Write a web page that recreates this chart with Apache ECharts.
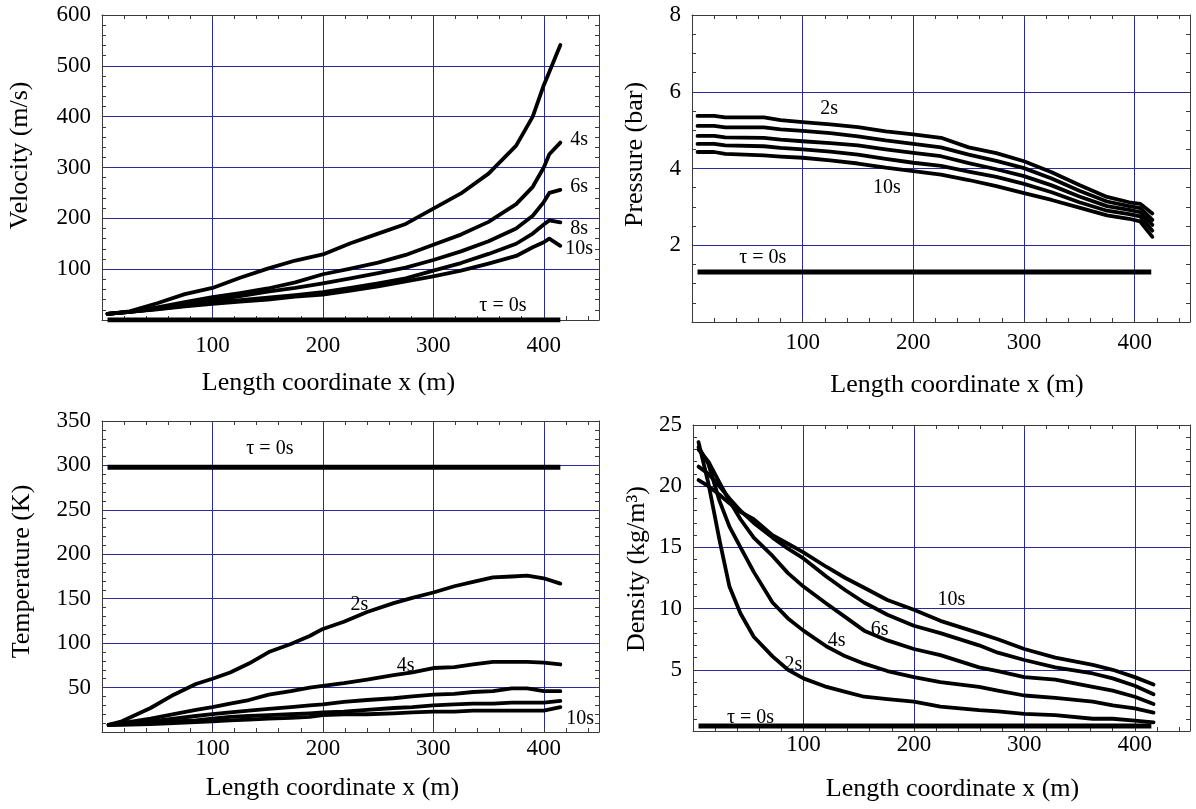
<!DOCTYPE html>
<html>
<head>
<meta charset="utf-8">
<title>Pipeline blowdown profiles</title>
<script src="https://cdn.jsdelivr.net/npm/echarts@6/dist/echarts.min.js"></script>
<style>
  html, body { margin: 0; padding: 0; background: #fff; }
  #chart { width: 1196px; height: 809px; }
</style>
</head>
<body>
<div id="chart"></div>
<script>
// ---- data ----
const lineEnds = [5, 415];

// velocity (m/s)
const velX = [5, 25, 50, 75, 100, 125, 150, 175, 200, 225, 250, 275, 300, 325, 350, 375, 390, 400, 405, 415];
const velT2 = [12, 17, 33, 51, 63, 83, 101, 117, 129, 151, 170, 189, 219, 249, 288, 343, 400, 462, 488, 541];
const velT4 = [12, 16, 25, 35, 45, 53, 62, 74, 90, 101, 113, 128, 148, 168, 193, 228, 262, 300, 326, 349];
const velT6 = [12, 16, 22, 31, 39, 47, 56, 63, 72, 82, 92, 103, 118, 135, 155, 180, 205, 232, 250, 256];
const velT8 = [12, 16, 22, 28, 35, 39, 44, 49, 55, 63, 72, 82, 97, 112, 130, 150, 170, 188, 196, 192];
const velT10 = [12, 16, 21, 27, 32, 36, 40, 46, 50, 58, 66, 76, 86, 97, 111, 126, 143, 153, 160, 146];
const velT0 = [0, 0];

// pressure (bar)
const presX = [5, 20, 30, 65, 80, 100, 125, 150, 175, 200, 225, 250, 275, 300, 325, 350, 375, 395, 405, 416];
const presT2 = [5.37, 5.37, 5.33, 5.33, 5.26, 5.21, 5.15, 5.08, 4.97, 4.89, 4.80, 4.55, 4.40, 4.19, 3.90, 3.57, 3.26, 3.12, 3.08, 2.83];
const presT4 = [5.11, 5.11, 5.07, 5.07, 5.02, 4.98, 4.92, 4.84, 4.73, 4.64, 4.55, 4.36, 4.20, 4.01, 3.74, 3.42, 3.14, 3.02, 2.97, 2.66];
const presT6 = [4.85, 4.85, 4.81, 4.80, 4.75, 4.71, 4.66, 4.60, 4.50, 4.41, 4.32, 4.14, 3.98, 3.80, 3.56, 3.27, 3.02, 2.92, 2.86, 2.53];
const presT8 = [4.64, 4.64, 4.60, 4.58, 4.54, 4.50, 4.44, 4.36, 4.25, 4.15, 4.07, 3.92, 3.78, 3.60, 3.38, 3.12, 2.90, 2.81, 2.75, 2.38];
const presT10 = [4.43, 4.43, 4.38, 4.34, 4.31, 4.28, 4.21, 4.13, 4.02, 3.93, 3.84, 3.70, 3.54, 3.36, 3.18, 2.98, 2.78, 2.69, 2.62, 2.22];
const presT0 = [1.3, 1.3];

// temperature (K)
const tempX = [6, 18, 44, 65, 85, 100, 116, 133, 151, 171, 188, 200, 219, 240, 264, 281, 300, 319, 336, 354, 371, 385, 400, 415];
const tempT2 = [8, 12, 27, 42, 54, 60, 67, 77, 90, 99, 108, 116, 124, 135, 145, 151, 157, 164, 169, 174, 175, 176, 173, 167];
const tempT4 = [8, 10, 15, 20, 25, 28, 32, 36, 42, 46, 50, 52, 55, 59, 64, 67, 72, 73, 76, 79, 79, 79, 78, 76];
const tempT6 = [8, 9, 12, 15, 18, 20, 22, 24, 26, 28, 30, 31, 34, 36, 38, 40, 42, 43, 45, 46, 49, 49, 46, 46];
const tempT8 = [8, 9, 10, 12, 13, 15, 17, 18, 19, 20, 21, 22, 23, 25, 27, 28, 30, 31, 32, 32, 33, 33, 33, 35];
const tempT10 = [8, 8, 9, 10, 11, 12, 13, 14, 15, 16, 17, 19, 20, 20, 21, 22, 23, 23, 24, 24, 24, 24, 24, 28];
const tempT0 = [298, 298];

// density (kg/m3)
const densX = [5, 14, 24, 33, 43, 55, 72, 86, 100, 121, 138, 155, 176, 200, 224, 259, 276, 300, 328, 362, 380, 400, 417];
const densT2 = [23.6, 20.2, 15.6, 11.8, 9.6, 7.7, 6.1, 5.0, 4.3, 3.6, 3.2, 2.8, 2.6, 2.4, 2.0, 1.7, 1.6, 1.4, 1.3, 1.0, 1.0, 0.85, 0.7];
const densT4 = [23.2, 21.8, 18.8, 16.7, 15.0, 13.0, 10.5, 9.2, 8.2, 6.9, 6.1, 5.5, 4.9, 4.4, 4.0, 3.6, 3.3, 2.9, 2.7, 2.4, 2.1, 1.85, 1.5];
const densT6 = [23.0, 22.0, 20.3, 18.8, 17.3, 15.8, 14.3, 12.9, 11.8, 10.4, 9.3, 8.2, 7.4, 6.7, 6.2, 5.2, 4.9, 4.4, 4.2, 3.6, 3.3, 2.8, 2.2];
const densT8 = [21.6, 21.0, 20.0, 19.0, 18.0, 17.0, 15.8, 14.9, 14.1, 12.6, 11.5, 10.5, 9.5, 8.6, 8.0, 7.0, 6.4, 5.8, 5.2, 4.7, 4.3, 3.7, 3.0];
const densT10 = [20.5, 20.0, 19.3, 18.6, 17.9, 17.3, 16.0, 15.3, 14.6, 13.4, 12.5, 11.7, 10.7, 9.9, 9.0, 8.0, 7.5, 6.7, 6.0, 5.4, 5.0, 4.4, 3.8];
const densT0 = [0.4, 0.4];

// curve labels: [text, x, y]
const velNotes = [['4s', 432, 354], ['6s', 432, 262], ['8s', 432, 180], ['10s', 432, 140], ['τ = 0s', 363, 28]];
const presNotes = [['2s', 124, 5.55], ['10s', 176, 3.5], ['τ = 0s', 64, 1.67]];
const tempNotes = [['τ = 0s', 152, 319], ['2s', 233, 143], ['4s', 275, 75], ['10s', 433, 15]];
const densNotes = [['2s', 91, 5.4], ['4s', 130, 7.4], ['6s', 169, 8.3], ['10s', 234, 10.7], ['τ = 0s', 52, 1.05]];

// ---- styling ----
const FONT = '"Liberation Serif", "Times New Roman", serif';
const GRID_BLUE = '#2a2aa0';
const FRAME = '#3a3a3a';

const panels = [
  {
    grid: { left: 102, top: 15, width: 497, height: 305 },
    yMax: 600, yStep: 100, yMinor: 20, yName: 'Velocity (m/s)', yGap: 69, yShift: 12,
    xMargin: 14, xGap: 50, xShift: -22,
    x: velX, curves: [velT2, velT4, velT6, velT8, velT10], zero: velT0, notes: velNotes
  },
  {
    grid: { left: 692, top: 15, width: 498, height: 307 },
    yMax: 8, yStep: 2, yMinor: 0.5, yName: 'Pressure (bar)', yGap: 44, yShift: 14,
    xMargin: 9, xGap: 50, xShift: 16,
    x: presX, curves: [presT2, presT4, presT6, presT8, presT10], zero: presT0, notes: presNotes
  },
  {
    grid: { left: 102, top: 421, width: 497, height: 311 },
    yMax: 350, yStep: 50, yMinor: 10, yName: 'Temperature (K)', yGap: 67, yShift: 5,
    xMargin: 5, xGap: 43, xShift: -18,
    x: tempX, curves: [tempT2, tempT4, tempT6, tempT8, tempT10], zero: tempT0, notes: tempNotes
  },
  {
    grid: { left: 693, top: 425, width: 497, height: 306 },
    yMax: 25, yStep: 5, yMinor: 1, yName: 'Density (kg/m³)', yGap: 43, yShift: 9,
    xMargin: 2, xGap: 45, xShift: 11,
    x: densX, curves: [densT2, densT4, densT6, densT8, densT10], zero: densT0, notes: densNotes
  }
];

const onMajor = step => v =>
  (v > 0 && Math.abs(v / step - Math.round(v / step)) < 1e-9) ? String(v) : '';

const frameLine = { show: true, onZero: false, lineStyle: { color: FRAME, width: 1 } };
const tickIn = { show: true, inside: true, length: 4, lineStyle: { color: FRAME } };
const gridLine = {
  show: true, showMinLine: false, showMaxLine: false,
  lineStyle: { color: GRID_BLUE, width: 1 }
};

const grids = [], xAxes = [], yAxes = [], series = [];

panels.forEach((p, gi) => {
  grids.push(p.grid);

  // bottom: every 20 m ticked, labels at hundreds
  xAxes.push({
    type: 'value', gridIndex: gi, position: 'bottom', min: 0, max: 450, interval: 20,
    name: 'Length coordinate x (m)', nameLocation: 'middle', nameGap: p.xGap,
    nameTextStyle: {
      fontFamily: FONT, fontSize: 26, color: '#000',
      padding: p.xShift < 0 ? [0, -2 * p.xShift, 0, 0] : [0, 0, 0, 2 * p.xShift]
    },
    axisLine: frameLine, axisTick: tickIn, splitLine: { show: false },
    axisLabel: { formatter: onMajor(100), margin: p.xMargin, fontFamily: FONT, fontSize: 23, color: '#000' }
  });
  // top: frame, vertical grid lines, major + minor ticks
  xAxes.push({
    type: 'value', gridIndex: gi, position: 'top', min: 0, max: 450, interval: 100,
    axisLine: frameLine, axisTick: tickIn, axisLabel: { show: false },
    minorTick: { show: true, splitNumber: 5, length: 4, lineStyle: { color: FRAME } },
    splitLine: gridLine
  });

  // left: minor ticks, labels at major values
  yAxes.push({
    type: 'value', gridIndex: gi, position: 'left', min: 0, max: p.yMax, interval: p.yMinor,
    name: p.yName, nameLocation: 'middle', nameGap: p.yGap,
    nameTextStyle: { fontFamily: FONT, fontSize: 26, color: '#000', padding: [0, 0, 0, 2 * p.yShift] },
    axisLine: frameLine, axisTick: tickIn, splitLine: { show: false },
    axisLabel: { formatter: onMajor(p.yStep), margin: 11, fontFamily: FONT, fontSize: 23, color: '#000' }
  });
  // right: frame, horizontal grid lines
  yAxes.push({
    type: 'value', gridIndex: gi, position: 'right', min: 0, max: p.yMax, interval: p.yStep,
    axisLine: frameLine, axisTick: tickIn, axisLabel: { show: false },
    minorTick: { show: true, splitNumber: Math.round(p.yStep / p.yMinor), length: 4, lineStyle: { color: FRAME } },
    splitLine: gridLine
  });

  const axisRef = { xAxisIndex: gi * 2, yAxisIndex: gi * 2 };

  series.push({
    type: 'line', ...axisRef, name: 'tau0-' + gi,
    data: lineEnds.map((x, i) => [x, p.zero[i]]),
    symbol: 'none', lineStyle: { color: '#000', width: 5 }, z: 3, silent: true
  });
  p.curves.forEach((ys, ci) => {
    series.push({
      type: 'line', ...axisRef, name: 'curve-' + gi + '-' + ci,
      data: p.x.map((x, i) => [x, ys[i]]),
      symbol: 'none', lineStyle: { color: '#000', width: 3.8, join: 'round', cap: 'round' },
      z: 3, silent: true
    });
  });
  series.push({
    type: 'scatter', ...axisRef, name: 'notes-' + gi,
    data: p.notes.map(n => ({ name: n[0], value: [n[1], n[2]] })),
    symbolSize: 0, z: 4, silent: true,
    itemStyle: { opacity: 1, color: '#000' },
    label: {
      show: true, position: 'inside', formatter: '{b}', opacity: 1,
      fontFamily: FONT, fontSize: 20, color: '#000'
    }
  });
});

const chart = echarts.init(document.getElementById('chart'), null, { renderer: 'canvas' });
chart.setOption({
  backgroundColor: '#fff',
  animation: false,
  textStyle: { fontFamily: FONT },
  grid: grids,
  xAxis: xAxes,
  yAxis: yAxes,
  series: series
});
</script>
</body>
</html>
